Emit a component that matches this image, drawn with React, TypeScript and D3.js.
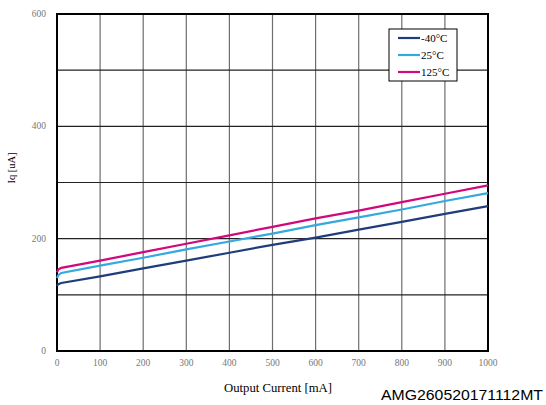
import React from "react";
import * as d3 from "d3";

const currents = [0, 3, 10, 100, 200, 300, 400, 500, 600, 700, 800, 900, 1000];
const iqMinus40 = [116, 119, 121, 133, 147, 161, 175, 189, 202, 216, 230, 244, 258];
const iq25 = [130, 135, 139, 152, 166, 181, 195, 209, 224, 238, 252, 267, 281];
const iq125 = [140, 145, 148, 161, 176, 191, 206, 221, 236, 250, 265, 280, 295];
const seriesNames = ["-40°C", "25°C", "125°C"];
const seriesColors = ["#1f3d7a", "#35a8df", "#d1087b"];
const xTicks = [0, 100, 200, 300, 400, 500, 600, 700, 800, 900, 1000];
const yTicks = [0, 200, 400, 600];
const yGrid = [0, 100, 200, 300, 400, 500, 600];

export default function App() {
  const W = 546, H = 405;
  const left = 57, right = 488, top = 14, bottom = 351;
  const x = d3.scaleLinear().domain([0, 1000]).range([left, right]);
  const y = d3.scaleLinear().domain([0, 600]).range([bottom, top]);
  const series = [iqMinus40, iq25, iq125];
  const line = d3.line<number>().x((_, i) => x(currents[i])).y((d) => y(d));
  const serif = "'Liberation Serif', 'Times New Roman', serif";
  const lx = 389, ly = 29, lw = 68, lh = 52;
  return (
    <svg width={W} height={H} style={{ position: "absolute", left: 0, top: 0, background: "#fff" }}>
      {xTicks.slice(1, -1).map((t) => (
        <line key={"vx" + t} x1={x(t)} x2={x(t)} y1={top} y2={bottom} stroke="#6e6e6e" strokeWidth={1.2} />
      ))}
      {yGrid.slice(1, -1).map((t) => (
        <line key={"hy" + t} x1={left} x2={right} y1={y(t)} y2={y(t)} stroke="#222" strokeWidth={1.2} />
      ))}
      <rect x={left} y={top} width={right - left} height={bottom - top} fill="none" stroke="#000" strokeWidth={2} />
      {series.map((s, i) => (
        <path key={i} d={line(s) || ""} fill="none" stroke={seriesColors[i]} strokeWidth={2.2} />
      ))}
      {yTicks.map((t) => (
        <text key={"yt" + t} x={46} y={y(t) + 3} textAnchor="end" fontFamily={serif} fontSize={9.5} fill="#777">{t}</text>
      ))}
      {xTicks.map((t) => (
        <text key={"xt" + t} x={x(t)} y={366} textAnchor="middle" fontFamily={serif} fontSize={9.5} fill="#777">{t}</text>
      ))}
      <text x={224} y={392} textLength={108} lengthAdjust="spacingAndGlyphs" fontFamily={serif} fontSize={11.5} fill="#000">Output Current [mA]</text>
      <text transform={`translate(15,168) rotate(-90)`} textAnchor="middle" fontFamily={serif} fontSize={10.5} fill="#000">Iq [uA]</text>
      <rect x={lx} y={ly} width={lw} height={lh} fill="#fff" stroke="#000" strokeWidth={1} />
      {seriesNames.map((n, i) => (
        <g key={n}>
          <line x1={lx + 9} x2={lx + 31} y1={ly + 9 + i * 17} y2={ly + 9 + i * 17} stroke={seriesColors[i]} strokeWidth={2.2} />
          <text x={lx + 32} y={ly + 12.5 + i * 17} fontFamily={serif} fontSize={11} fill="#000">{n}</text>
        </g>
      ))}
      <text x={381} y={400} textLength={162} lengthAdjust="spacingAndGlyphs" fontFamily="'Liberation Sans', Arial, sans-serif" fontSize={15.5} fill="#000">AMG260520171112MT</text>
    </svg>
  );
}
